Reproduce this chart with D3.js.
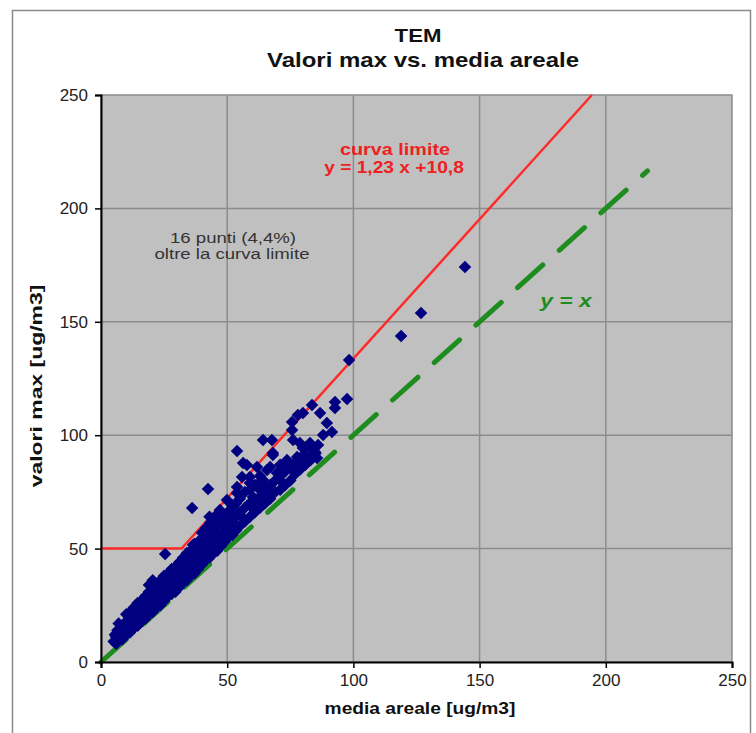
<!DOCTYPE html>
<html>
<head>
<meta charset="utf-8">
<script src="https://cdn.jsdelivr.net/npm/d3@7"></script>
<style>
  body { margin: 0; background: #fff; }
  svg { font-family: "Liberation Sans", Arial, sans-serif; }
</style>
</head>
<body>
<div class="chart"></div>
<script>

// axis ticks
var xTicks = [0, 50, 100, 150, 200, 250];
var yTicks = [0, 50, 100, 150, 200, 250];

// curva limite: flat at 50, then y = 1.23 x + 10.8
var limitLine = [[0, 50], [31.9, 50], [194.5, 250]];

// y = x reference
var identityLine = [[0, 0], [216.5, 216.5]];

// measured points: [media areale, valore max]
var points = [
    [5, 9], [5.5, 12], [6, 8], [6, 11], [6.5, 14], [7, 10], [7, 13], [7, 17],
    [8.5, 10], [8.5, 13], [8.5, 16], [10, 12], [10, 15], [10, 18], [10, 21],
    [11.5, 13], [11.5, 16], [11.5, 19], [11.5, 22], [13, 15], [13, 18], [13, 21], [13, 24],
    [14.5, 16], [14.5, 19], [14.5, 22], [14.5, 26], [16, 18], [16, 21], [16, 24], [16, 27],
    [17.5, 19], [17.5, 22], [17.5, 26], [17.5, 29], [19, 21], [19, 24], [19, 27], [19, 31], [19, 34],
    [20.5, 22], [20.5, 26], [20.5, 29], [20.5, 33], [20.5, 36], [22, 24], [22, 27], [22, 31], [22, 34],
    [23.5, 25], [23.5, 28], [23.5, 32], [23.5, 36], [25, 27], [25, 30], [25, 34], [25, 38],
    [25.4, 47.6], [26.5, 29], [26.5, 32], [26.5, 35], [26.5, 39], [28, 30], [28, 33], [28, 37], [28, 41],
    [29.5, 31], [29.5, 35], [29.5, 38], [29.5, 42], [31, 33], [31, 36], [31, 40], [31, 44],
    [32.5, 35], [32.5, 38], [32.5, 42], [32.5, 46], [34, 36], [34, 40], [34, 44], [34, 48],
    [35.5, 38], [35.5, 41], [35.5, 45], [35.5, 49], [36.1, 67.9], [36.5, 51.6], [37, 39], [37, 43], [37, 47], [37, 52],
    [38.5, 41], [38.5, 45], [38.5, 50], [39.2, 53.8], [40, 43], [40, 47], [40, 52], [40, 57],
    [41.5, 45], [41.5, 49], [41.5, 54], [41.5, 59], [42, 56.9], [42.4, 76.3], [43, 46], [43, 51], [43, 56], [43, 64],
    [43.2, 61.3], [43.2, 53.8], [44.5, 48], [44.5, 53], [44.5, 58], [46, 49], [46, 55], [46, 60], [46, 65],
    [46, 62.6], [46.4, 55.1], [47.1, 67], [47.5, 51], [47.5, 56], [47.5, 62], [49, 53], [49, 58], [49, 64],
    [49.1, 61.3], [49.9, 71.4], [50.3, 66.1], [50.5, 55], [50.5, 60], [50.5, 66], [51.9, 69.2],
    [52, 56], [52, 62], [52, 68], [53.5, 58], [53.5, 64], [53.5, 70], [53.9, 74.5], [53.9, 77.2], [53.9, 93],
    [55, 60], [55, 66], [55, 72], [55.1, 64.8], [55.9, 81.6], [56.3, 87.7], [57, 62], [57, 68], [57, 75],
    [57.8, 86.9], [59, 64], [59, 69], [59, 76], [59, 70.1], [59, 78.9], [59, 81.6], [60.2, 72.8],
    [61, 66], [61, 71], [61, 78], [61.8, 86], [63, 68], [63, 73], [63, 82], [63, 75.8], [63, 79.4],
    [64.2, 73.6], [64.2, 80.2], [64.2, 97.9], [65, 70], [65, 76], [65.8, 84.7], [67, 72], [67, 78], [67, 86],
    [67, 75], [67.7, 97.9], [68.1, 91.3], [68.1, 92.2], [69, 75], [69, 80], [69.7, 83.3], [70.9, 80.2],
    [71, 76], [71, 82], [71, 87], [73, 78], [73, 84], [73.7, 89.1], [75, 80], [75, 86],
    [75.7, 105.8], [75.7, 102.3], [76.1, 97.9], [76.1, 84.7], [76.9, 83.8], [77, 83], [77, 88], [77.7, 90.4],
    [78, 108.9], [78.8, 96.6], [79, 85], [79, 90], [80, 109.8], [80, 94.4], [81, 87], [81, 91],
    [82.8, 96.6], [83, 89], [83.6, 113.3], [83.6, 93.5], [84.8, 92.6], [85, 92], [85.6, 89.9], [86, 95.7],
    [86.8, 109.8], [88, 100.1], [89.5, 105.4], [91.5, 101.4], [92.7, 114.6], [92.7, 112], [97.5, 116],
    [98.3, 133.2], [118.9, 143.7], [126.8, 153.9], [144.2, 174.2]
];

var W = 756, H = 733;
var plot = {left: 101, right: 732, top: 95, bottom: 662};
var stretch = 1.2;   // text in the original is drawn wide

var svg = d3.select(".chart").append("svg")
    .attr("width", W)
    .attr("height", H);

// outer chart frame
svg.append("rect")
    .attr("x", 12.5).attr("y", 10.5)
    .attr("width", 738).attr("height", 740)
    .attr("fill", "#fff")
    .attr("stroke", "#8a8a8a")
    .attr("stroke-width", 1.5);

var x = d3.scaleLinear().domain([0, 250]).range([plot.left, plot.right]);
var y = d3.scaleLinear().domain([0, 250]).range([plot.bottom, plot.top]);

// plot area
svg.append("rect")
    .attr("x", plot.left).attr("y", plot.top)
    .attr("width", plot.right - plot.left).attr("height", plot.bottom - plot.top)
    .attr("fill", "#c0c0c0")
    .attr("stroke", "#8c8c8c")
    .attr("stroke-width", 1.5);

// gridlines
svg.append("g").selectAll("line.vg")
    .data(xTicks.slice(1, -1))
    .enter().append("line")
    .attr("x1", function(d) { return x(d); }).attr("x2", function(d) { return x(d); })
    .attr("y1", plot.top).attr("y2", plot.bottom)
    .attr("stroke", "#8c8c8c").attr("stroke-width", 1.5);

svg.append("g").selectAll("line.hg")
    .data(yTicks.slice(1, -1))
    .enter().append("line")
    .attr("y1", function(d) { return y(d); }).attr("y2", function(d) { return y(d); })
    .attr("x1", plot.left).attr("x2", plot.right)
    .attr("stroke", "#8c8c8c").attr("stroke-width", 1.5);

// lines
var line = d3.line()
    .x(function(d) { return x(d[0]); })
    .y(function(d) { return y(d[1]); });

svg.append("path")
    .datum(limitLine)
    .attr("d", line)
    .attr("fill", "none")
    .attr("stroke", "#ff2a2a")
    .attr("stroke-width", 2.5);

svg.append("path")
    .datum(identityLine)
    .attr("d", line)
    .attr("fill", "none")
    .attr("stroke", "#1e8c1e")
    .attr("stroke-width", 5)
    .attr("stroke-linecap", "round")
    .attr("stroke-dasharray", "34,22");

// diamonds
var diamond = d3.symbol().type(d3.symbolDiamond2).size(100);
svg.append("g").selectAll("path.pt")
    .data(points)
    .enter().append("path")
    .attr("transform", function(d) { return "translate(" + x(d[0]) + "," + y(d[1]) + ")"; })
    .attr("d", diamond)
    .attr("fill", "#000080");

// axes
var xAxis = svg.append("g")
    .attr("transform", "translate(0," + plot.bottom + ")")
    .call(d3.axisBottom(x).tickValues(xTicks).tickSize(6).tickPadding(6));

var yAxis = svg.append("g")
    .attr("transform", "translate(" + plot.left + ",0)")
    .call(d3.axisLeft(y).tickValues(yTicks).tickSize(6).tickPadding(7));

[xAxis, yAxis].forEach(function(a) {
    a.select(".domain").attr("stroke", "#000").attr("stroke-width", 2);
    a.selectAll(".tick line").attr("stroke", "#000").attr("stroke-width", 1.5);
    a.selectAll(".tick text")
        .attr("fill", "#222")
        .style("font-size", "17px")
        .style("font-family", "'Liberation Sans', Arial, sans-serif");
});

// helper for the wide text
function label(cx, cy, rot, txt, size, fill, weight, style, sx) {
    svg.append("text")
        .attr("transform", "translate(" + cx + "," + cy + ") rotate(" + rot + ") scale(" + (sx || stretch) + ",1)")
        .attr("text-anchor", "middle")
        .style("font-size", size + "px")
        .style("font-weight", weight || "normal")
        .style("font-style", style || "normal")
        .attr("fill", fill)
        .text(txt);
}

// titles
label(418, 42, 0, "TEM", 18.5, "#111", "bold");
label(423, 67, 0, "Valori max vs. media areale", 20, "#111", "bold");
label(420, 714, 0, "media areale [ug/m3]", 16, "#111", "bold");
label(42, 386, -90, "valori max  [ug/m3]", 17, "#111", "bold", null, 1.35);

// annotations
label(395, 155, 0, "curva limite", 16.5, "#ee2020", "bold");
label(394, 173, 0, "y = 1,23 x +10,8", 16, "#ee2020", "bold");
label(233, 243, 0, "16 punti (4,4%)", 15.5, "#333");
label(232, 259, 0, "oltre la curva limite", 15.5, "#333");
label(566, 307, 0, "y = x", 19, "#1e8c1e", "bold", "italic");

</script>
</body>
</html>
